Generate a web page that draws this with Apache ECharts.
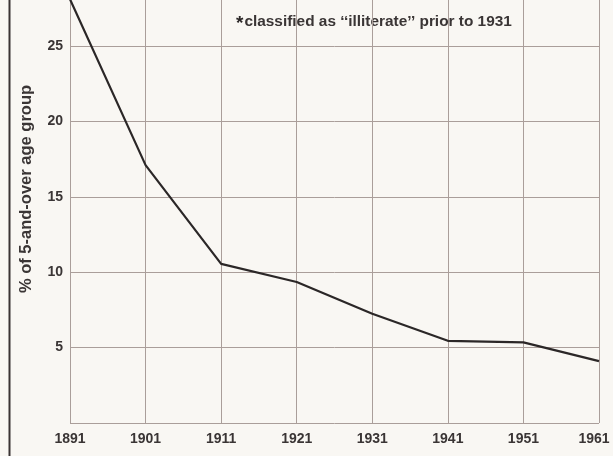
<!DOCTYPE html>
<html>
<head>
<meta charset="utf-8">
<script src="https://cdn.jsdelivr.net/npm/echarts@6/dist/echarts.min.js"></script>
<style>
  html, body { margin: 0; padding: 0; background: #f9f7f3; }
  #chart { width: 613px; height: 456px; }
</style>
</head>
<body>
<div id="chart"></div>
<script>
// census years and share unable to read (% of 5-and-over age group)
const years = ['1891', '1901', '1911', '1921', '1931', '1941', '1951', '1961']
const values = [28.1, 17.1, 10.55, 9.35, 7.25, 5.45, 5.35, 4.1]
const yTicks = [5, 10, 15, 20, 25]

const yName = '% of 5-and-over age group'
const noteText = 'classified as \u2018\u2018illiterate\u2019\u2019 prior to 1931'

const gridColor = '#aa9e9a'
const inkColor = '#2b2727'
const labelFont = 'Liberation Sans, Arial, sans-serif'

const chart = echarts.init(document.getElementById('chart'))

const tickText = { color: '#3a3535', fontFamily: labelFont, fontSize: 14, fontWeight: 'bold' }

chart.setOption({
  backgroundColor: '#f9f7f3',
  animation: false,
  grid: { left: 70, right: 14, top: 0, bottom: 33, outerBoundsMode: 'none', containLabel: false },
  xAxis: {
    type: 'category',
    data: years,
    boundaryGap: false,
    axisLine: { show: false },
    axisTick: { show: false },
    axisLabel: {
      margin: 9,
      interval: 0,
      ...tickText,
      // last year label is nudged left so it stays on the page
      formatter: (v, i) => (i === years.length - 1 ? '{last|' + v + '}' : v),
      rich: { last: { ...tickText, padding: [0, 10, 0, 0] } }
    },
    splitLine: { show: true, interval: 0, lineStyle: { color: gridColor, width: 1 } }
  },
  yAxis: {
    type: 'value',
    min: 0,
    max: 28.05,
    interval: 5,
    axisLine: { show: false },
    axisTick: { show: false },
    axisLabel: {
      margin: 7,
      ...tickText,
      showMaxLabel: false,
      formatter: v => (yTicks.includes(v) ? String(v) : '')
    },
    splitLine: {
      show: true,
      showMaxLine: false,
      lineStyle: { color: gridColor, width: 1 }
    }
  },
  graphic: [
    {
      type: 'line',
      shape: { x1: 9.5, y1: 0, x2: 9.5, y2: 456 },
      style: { stroke: '#3a3434', lineWidth: 2 }
    },
    {
      type: 'text',
      left: 236,
      top: 14,
      style: {
        text: '{a|*}{b|' + noteText + '}',
        rich: {
          a: { fontSize: 19, fontWeight: 'bold', fill: inkColor, fontFamily: labelFont, padding: [5, 1, 0, 0] },
          b: { fontSize: 15.4, fontWeight: 'bold', fill: '#3a3535', fontFamily: labelFont }
        }
      }
    },
    {
      type: 'text',
      x: 26,
      y: 189,
      rotation: Math.PI / 2,
      style: {
        text: yName,
        fill: '#3a3535',
        fontSize: 16.5,
        fontWeight: 'bold',
        fontFamily: labelFont,
        align: 'center',
        verticalAlign: 'middle'
      }
    }
  ],
  series: [
    {
      type: 'line',
      data: values,
      showSymbol: false,
      lineStyle: { color: inkColor, width: 2.2 },
      clip: true
    }
  ]
})
</script>
</body>
</html>
